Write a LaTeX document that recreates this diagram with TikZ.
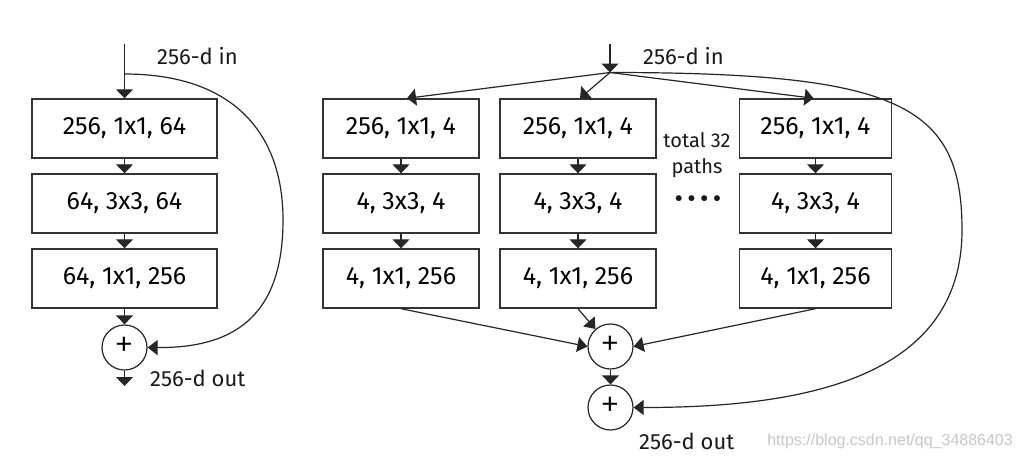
\documentclass[tikz,border=0pt]{standalone}
\usepackage{fontspec}
\setmainfont{Fira Sans}
\newfontfamily\wmfont{Liberation Sans}
\newfontfamily\plusfont{Fira Sans Light}
\newcommand\plussign{{\plusfont\fontsize{40}{40}\selectfont +}}
\usetikzlibrary{arrows.meta}
\begin{document}
\begin{tikzpicture}[x=1pt,y=-1pt,
  box/.style={draw=black!80, line width=1.4pt, minimum height=59pt, inner sep=0pt, font=\fontsize{25}{28}\selectfont},
  sumnode/.style={circle, draw=black!85, line width=1.2pt, minimum size=45pt, inner sep=0pt},
  arr/.style={draw=black!85, line width=1.2pt, -{Triangle[width=17pt,length=9pt]}},
  skip/.style={draw=black!85, line width=1.2pt, -{Triangle[width=15pt,length=10pt]}},
  lbl/.style={font=\fontsize{22}{24}\selectfont, inner sep=0pt, text=black!90}
]
\useasboundingbox (0,0) rectangle (1022,458);
\fill[white] (0,0) rectangle (1022,458);

% ---------- left block ----------
\node[box, minimum width=185pt] (a1) at (124.5,128.5) {256, 1x1, 64};
\node[box, minimum width=185pt] (a2) at (124.5,203.5) {64, 3x3, 64};
\node[box, minimum width=185pt] (a3) at (124.5,278.5) {64, 1x1, 256};
\node[sumnode] (as) at (124.5,347.5) {\plussign};
\coordinate (ain) at (124.5,44);
\coordinate (asplit) at (124.5,74);
\coordinate (aout) at (124.5,386);
\draw[arr] (ain) -- (a1.north);
\draw[arr] (a1) -- (a2);
\draw[arr] (a2) -- (a3);
\draw[arr] (a3) -- (as);
\draw[arr] (as) -- (aout);
\draw[skip] (asplit) .. controls (230,74) and (283,130) .. (283,220) .. controls (283,320) and (230,348) .. (as.east);
\node[lbl, anchor=west] (ainl) at (157,56) {256-d in};
\node[lbl, anchor=west] (aoutl) at (150,378) {256-d out};

% ---------- right block ----------
\node[box, minimum width=156pt] (b1) at (401,128.5) {256, 1x1, 4};
\node[box, minimum width=156pt] (b2) at (401,203.5) {4, 3x3, 4};
\node[box, minimum width=156pt] (b3) at (401,278.5) {4, 1x1, 256};
\node[box, minimum width=156pt] (c1) at (578,128.5) {256, 1x1, 4};
\node[box, minimum width=156pt] (c2) at (578,203.5) {4, 3x3, 4};
\node[box, minimum width=156pt] (c3) at (578,278.5) {4, 1x1, 256};
\node[box, minimum width=152pt] (d1) at (815.5,128.5) {256, 1x1, 4};
\node[box, minimum width=152pt] (d2) at (815.5,203.5) {4, 3x3, 4};
\node[box, minimum width=152pt] (d3) at (815.5,278.5) {4, 1x1, 256};
\node[sumnode] (s1) at (610.5,346.5) {\plussign};
\node[sumnode] (s2) at (610.5,407.5) {\plussign};
\coordinate (bin) at (610,44);
\coordinate (bsplit) at (610,72.5);

\draw[arr] (bin) -- (bsplit);
\draw[arr] (bsplit) -- ([xshift=6pt]b1.north);
\draw[arr] (bsplit) -- ([xshift=2pt]c1.north);
\draw[arr] (bsplit) -- ([xshift=-2pt]d1.north);
\draw[arr] (b1) -- (b2);
\draw[arr] (b2) -- (b3);
\draw[arr] (c1) -- (c2);
\draw[arr] (c2) -- (c3);
\draw[arr] (d1) -- (d2);
\draw[arr] (d2) -- (d3);
\draw[skip] (b3.south) -- (s1.west);
\draw[skip] (c3.south) -- (s1);
\draw[skip] (d3.south) -- (s1.east);
\draw[arr] (s1) -- (s2);
\draw[skip] (bsplit) .. controls (900,72.5) and (962,105) .. (962,230) .. controls (962,380) and (800,407.5) .. (s2.east);

\node[lbl, anchor=west] (binl) at (643,56) {256-d in};
\node[lbl, anchor=west] (boutl) at (639,441) {256-d out};
\node[font=\fontsize{20}{26}\selectfont, align=center, inner sep=0pt, text=black!90] (tot) at (697,155) {total 32\\paths};
\node[font=\fontsize{26}{26}\selectfont, inner sep=0pt, text=black!90] (dots) at (698,202) {•\,•\,•\,•};

\node[font=\wmfont\fontsize{16}{16}\selectfont, text=black!22, anchor=east, inner sep=0pt] (wm) at (1013,441) {https://blog.csdn.net/qq\_34886403};
\end{tikzpicture}
\end{document}
